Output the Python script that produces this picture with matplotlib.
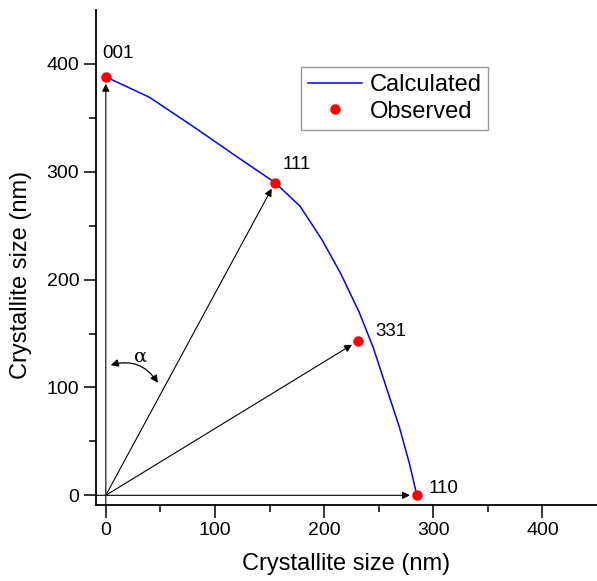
import matplotlib
matplotlib.use("Agg")
import matplotlib.pyplot as plt
from matplotlib.patches import FancyArrowPatch

plt.rcParams['font.family'] = ['Liberation Sans', 'DejaVu Sans']

# calculated crystallite shape
calc_x = [0, 40, 80, 120, 155, 178, 198, 215, 232, 245, 257, 269, 278, 285]
calc_y = [388, 369, 342, 314, 290, 268, 237, 206, 170, 137, 100, 63, 30, 0]

# observed points
obs_labels = ['001', '111', '331', '110']
obs_x = [0, 155, 231, 285]
obs_y = [388, 290, 143, 0]
label_x = [-3, 162, 247, 296]
label_y = [410, 307, 152, 6]

fig = plt.figure(figsize=(5.97, 5.81), dpi=100)
ax = fig.add_axes([0.1608, 0.1308, 0.8392, 0.852])

ax.plot(calc_x, calc_y, color='#0000ff', lw=1.1, label='Calculated', zorder=3)
ax.plot(obs_x, obs_y, 'o', color='#ff0000', ms=7.5, mec='none', label='Observed', zorder=4)

# vectors from the origin
for x, y in zip(obs_x, obs_y):
    start = (0, 0)
    if x == 0:
        start = (0, -9)
    elif y == 0:
        start = (-9, 0)
    ax.annotate('', xy=(x, y), xytext=start,
                arrowprops=dict(arrowstyle='-|>', color='black', lw=0.8,
                                shrinkA=0, shrinkB=5, mutation_scale=11),
                zorder=2)

for lab, x, y in zip(obs_labels, label_x, label_y):
    ax.text(x, y, lab, fontsize=13.5, ha='left', va='center')

# angle alpha
arc = FancyArrowPatch((2, 120), (49, 102), connectionstyle='arc3,rad=-0.4',
                      arrowstyle='<|-|>', mutation_scale=11, color='black', lw=0.9)
ax.add_patch(arc)
ax.text(32, 129, 'α', fontsize=14, family='DejaVu Serif', ha='center', va='center')

ax.set_xlim(-9, 450)
ax.set_ylim(-9, 450)
ax.set_xticks([0, 100, 200, 300, 400])
ax.set_yticks([0, 100, 200, 300, 400])
ax.set_xticks([50, 150, 250, 350], minor=True)
ax.set_yticks([50, 150, 250, 350], minor=True)
ax.tick_params(which='major', direction='out', length=9, width=1.1, labelsize=14, pad=3)
ax.tick_params(which='minor', direction='out', length=5, width=1.1)

ax.spines['top'].set_visible(False)
ax.spines['right'].set_visible(False)
ax.spines['left'].set_linewidth(1.3)
ax.spines['bottom'].set_linewidth(1.3)

ax.set_xlabel('Crystallite size (nm)', fontsize=17, labelpad=10)
ax.set_ylabel('Crystallite size (nm)', fontsize=17)
ax.yaxis.set_label_coords(-0.128, 0.465)

leg = ax.legend(loc='upper left', bbox_to_anchor=(0.409, 0.885), fontsize=17,
                frameon=True, fancybox=False, edgecolor='#808080',
                handlelength=2.3, handletextpad=0.3, borderpad=0.3,
                labelspacing=0.2, borderaxespad=0)
leg.get_frame().set_linewidth(1.0)

fig.savefig('out.png', dpi=100)
